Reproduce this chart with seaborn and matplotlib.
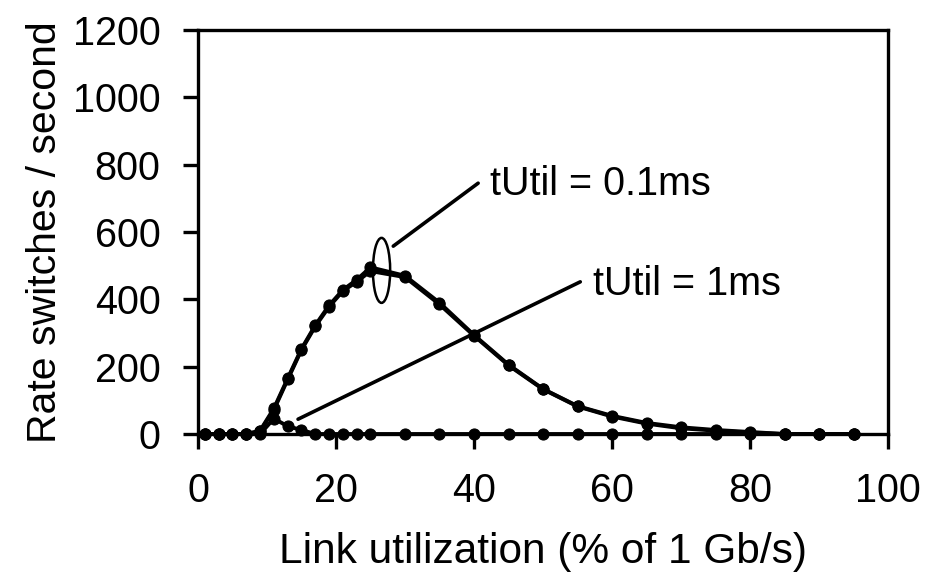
import pandas as pd
import matplotlib
matplotlib.use("Agg")
import matplotlib.pyplot as plt
from matplotlib.patches import Ellipse
import seaborn as sns

# link utilization (% of 1 Gb/s)
util = [1, 3, 5, 7, 9, 11, 13, 15, 17, 19, 21, 23, 25, 30, 35, 40, 45, 50, 55, 60, 65, 70, 75, 80, 85, 90, 95]

# rate switches / second
tutil_01_a = [0, 0, 0, 0, 10, 76, 165, 253, 323, 382, 428, 458, 495, 470, 390, 294, 206, 134, 83, 54, 33, 20, 12, 6, 0, 0, 0]
tutil_01_b = [0, 0, 0, 0, 8, 72, 162, 250, 320, 378, 425, 452, 484, 466, 385, 292, 204, 133, 82, 52, 31, 17, 10, 4, 0, 0, 0]
tutil_1 = [0, 0, 0, 0, 0, 46, 23, 12, 0, 0, 0, 0, 0, 0, 0, 0, 0, 0, 0, 0, 0, 0, 0, 0, 0, 0, 0]

xticks = [0, 20, 40, 60, 80, 100]
yticks = [0, 200, 400, 600, 800, 1000, 1200]

sns.set_style("ticks")
plt.rcParams['font.family'] = ['Liberation Sans', 'DejaVu Sans']
plt.rcParams['text.color'] = 'black'
plt.rcParams['axes.labelcolor'] = 'black'
fs = 28.5
lab_fs = 30.5

fig = plt.figure(figsize=(9.41, 5.79), dpi=100)
ax = fig.add_axes([0.2104, 0.2504, 0.7333, 0.6978])

for ys in [tutil_1, tutil_01_b, tutil_01_a]:
    sns.lineplot(x=util, y=ys, ax=ax, color="black", marker="o", markersize=8,
                 markeredgecolor="black", linewidth=2.8, clip_on=False, zorder=3)

ax.set_xlim(0, 100)
ax.set_ylim(0, 1200)
ax.set_xticks(xticks)
ax.set_yticks(yticks)
ax.tick_params(axis="both", direction="out", length=11, width=2.4, labelsize=fs, pad=16,
               colors="black", labelcolor="black")
for s in ax.spines.values():
    s.set_visible(True)
    s.set_linewidth(2.4)
    s.set_color("black")

ax.set_xlabel("Link utilization (% of 1 Gb/s)", fontsize=lab_fs, labelpad=16)
ax.set_ylabel("Rate switches / second", fontsize=29.5, labelpad=6)

# grouping ellipse + labels
ax.add_patch(Ellipse((26.6, 486), 2.5, 193, fill=False, edgecolor="black", linewidth=1.8, zorder=4))
ax.annotate("", xy=(28.3, 558), xytext=(40.6, 745),
            arrowprops=dict(arrowstyle="-", color="black", linewidth=2.6, shrinkA=0, shrinkB=0))
ax.text(42.3, 710, "tUtil = 0.1ms", fontsize=fs, ha="left", va="baseline")
ax.annotate("", xy=(14.5, 44), xytext=(55.4, 452),
            arrowprops=dict(arrowstyle="-", color="black", linewidth=2.6, shrinkA=0, shrinkB=0))
ax.text(57.2, 413, "tUtil = 1ms", fontsize=fs, ha="left", va="baseline")

fig.savefig("out.png", dpi=100)
